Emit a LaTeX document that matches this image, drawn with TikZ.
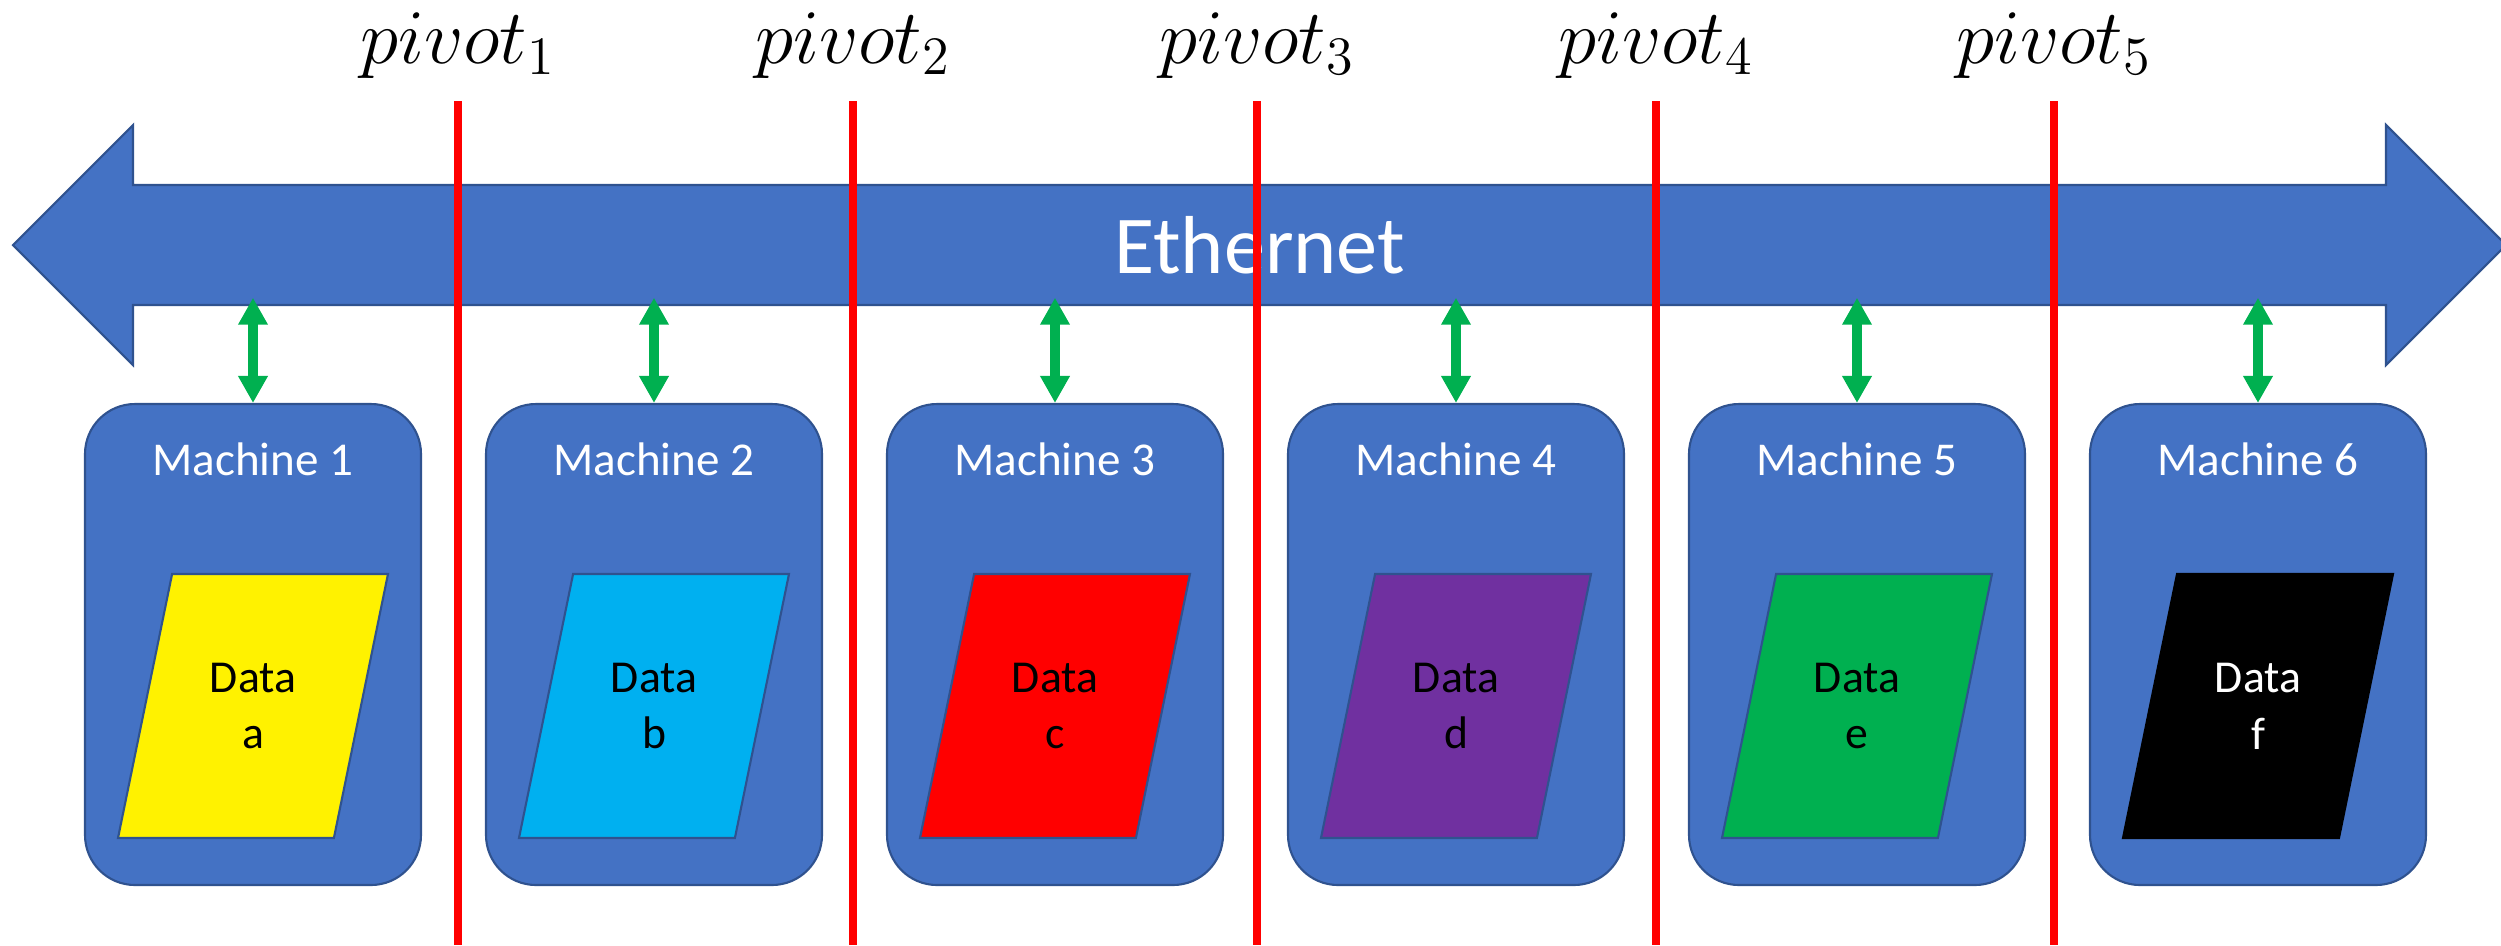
\RequirePackage{fix-cm}
\documentclass[tikz,border=0pt]{standalone}
\usepackage[no-math]{fontspec}
\setmainfont{Carlito}
\usetikzlibrary{arrows.meta,shapes.geometric}

\definecolor{netblue}{HTML}{4472C4}
\definecolor{netline}{HTML}{2F528F}
\definecolor{linkgreen}{HTML}{00B050}
\definecolor{datacyan}{HTML}{00B0F0}
\definecolor{datapurple}{HTML}{7030A0}

\tikzstyle{machine}=[
        draw = netline,
        line width = 0.6pt,
        fill = netblue,
        rounded corners = 5mm,
        minimum width = 33.6mm,
        minimum height = 48.1mm,
        rectangle
    ]
\tikzstyle{data}=[
    draw = netline,
    line width = 0.6pt,
    trapezium,
    trapezium left angle = 78.4,
    trapezium right angle = 101.6,
    trapezium stretches body,
    minimum width = 27mm,
    minimum height = 26.4mm,
    inner xsep = 0pt,
    inner ysep = 8.85mm,
    align = center,
    font = \fontsize{13}{16.2}\selectfont
]
\tikzstyle{title}=[
    anchor = base,
    text = white,
    font = \fontsize{13.4}{16}\selectfont
]
\tikzstyle{pivot}=[
    anchor = base,
    font = \fontsize{22}{26}\selectfont
]

\begin{document}
\begin{tikzpicture}[x=0.1mm, y=-0.1mm, node distance={40.1mm},
    bus/.style = {minimum width = 225.3mm, minimum height = 12mm, inner sep = 0pt,
                  text = white, font = \fontsize{23.4}{28}\selectfont},
    link/.style = {draw = linkgreen, line width = 1mm, shorten > = -0.8mm,
                   {Triangle[width=2.8mm,length=2.7mm]}-{Triangle[width=2.8mm,length=2.7mm]}},
    cut/.style = {draw = red, line width = 0.8mm}]
        \useasboundingbox (0,0) rectangle (2501,945);

        % the network
        \filldraw[fill = netblue, draw = netline, line width = 0.6pt]
            (13,245) -- (133,125) -- (133,185) -- (2386,185) -- (2386,125) -- (2506,245)
            -- (2386,365) -- (2386,305) -- (133,305) -- (133,365) -- cycle;
        \node[bus] (bus) at (1259.5,245) {Ethernet};

        % machines
        \node[machine] (m1) at (253,644.5) {};
        \node[machine] (m2) [right of = m1] {};
        \node[machine] (m3) [right of = m2] {};
        \node[machine] (m4) [right of = m3] {};
        \node[machine] (m5) [right of = m4] {};
        \node[machine] (m6) [right of = m5] {};

        \node[title] (t1) at ([yshift=-7.3mm]m1.north) {Machine 1};
        \node[title] (t2) at ([yshift=-7.3mm]m2.north) {Machine 2};
        \node[title] (t3) at ([yshift=-7.3mm]m3.north) {Machine 3};
        \node[title] (t4) at ([yshift=-7.3mm]m4.north) {Machine 4};
        \node[title] (t5) at ([yshift=-7.3mm]m5.north) {Machine 5};
        \node[title] (t6) at ([yshift=-7.3mm]m6.north) {Machine 6};

        % data on each machine
        \node[data, fill = yellow, node distance = 6.15mm, below of = m1] (d1) {Data\\a};
        \node[data, fill = datacyan, node distance = 6.15mm, below of = m2] (d2) {Data\\b};
        \node[data, fill = red, node distance = 6.15mm, below of = m3] (d3) {Data\\c};
        \node[data, fill = datapurple, node distance = 6.15mm, below of = m4] (d4) {Data\\d};
        \node[data, fill = linkgreen, node distance = 6.15mm, below of = m5] (d5) {Data\\e};
        \node[data, fill = black, draw = black, text = white, node distance = 6.15mm, below of = m6] (d6) {Data\\f};

        \draw[link] (m1.north) -- (m1.north |- bus.south);
        \draw[link] (m2.north) -- (m2.north |- bus.south);
        \draw[link] (m3.north) -- (m3.north |- bus.south);
        \draw[link] (m4.north) -- (m4.north |- bus.south);
        \draw[link] (m5.north) -- (m5.north |- bus.south);
        \draw[link] (m6.north) -- (m6.north |- bus.south);

        % pivots
        \coordinate (top) at (0,101);
        \coordinate (floor) at (0,945);
        \node[pivot] (p1) at (458,63) {$pivot_1$};
        \node[pivot] (p2) at (853,63) {$pivot_2$};
        \node[pivot] (p3) at (1257,63) {$pivot_3$};
        \node[pivot] (p4) at (1656,63) {$pivot_4$};
        \node[pivot] (p5) at (2054,63) {$pivot_5$};

        \draw[cut] (p1 |- top) -- (p1 |- floor);
        \draw[cut] (p2 |- top) -- (p2 |- floor);
        \draw[cut] (p3 |- top) -- (p3 |- floor);
        \draw[cut] (p4 |- top) -- (p4 |- floor);
        \draw[cut] (p5 |- top) -- (p5 |- floor);

    \end{tikzpicture}
\end{document}
